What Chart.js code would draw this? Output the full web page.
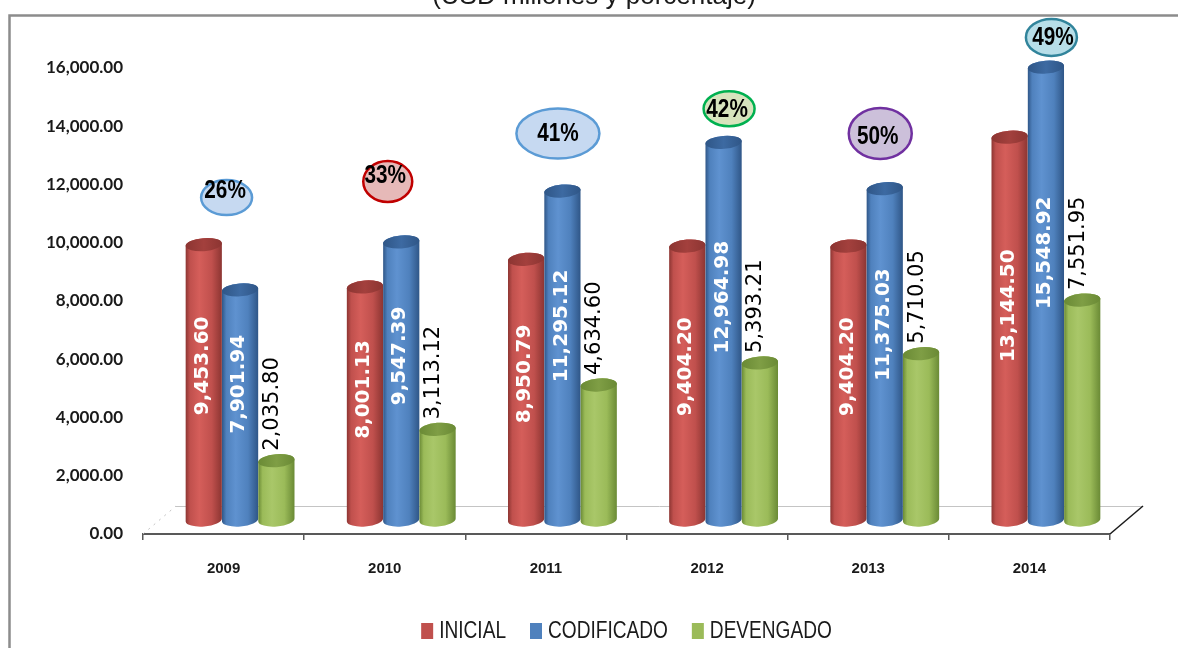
<!DOCTYPE html>
<html lang="es">
<head>
<meta charset="utf-8">
<title>Presupuesto 2009-2014</title>
<script src="https://cdn.jsdelivr.net/npm/chart.js@4.4.1/dist/chart.umd.min.js"></script>
<style>
  html, body { margin: 0; padding: 0; background: #fff; overflow: hidden; }
  canvas { display: block; }
</style>
</head>
<body>
<canvas id="grafico" width="1178" height="648"></canvas>
<script>
const anios = ['2009', '2010', '2011', '2012', '2013', '2014'];
const inicial = [9453.60, 8001.13, 8950.79, 9404.20, 9404.20, 13144.50];
const codificado = [7901.94, 9547.39, 11295.12, 12964.98, 11375.03, 15548.92];
const devengado = [2035.80, 3113.12, 4634.60, 5393.21, 5710.05, 7551.95];
// ejecución: devengado / codificado
const porcentajes = ['26%', '33%', '41%', '42%', '50%', '49%'];

const SANS = '"Liberation Sans", Arial, sans-serif';
const ANGOSTO = 0.83; // factor horizontal para imitar una fuente estrecha

// globos de porcentaje: desplazamiento desde el centro del año y altura en valor del eje
const globos = [
  { dx: 3,  valor: 11550, rx: 25.5, ry: 17.5, tx: -1.5, ty: -7,   fondo: '#c6d9f1', borde: '#5b9bd5' },
  { dx: 3,  valor: 12100, rx: 24.5, ry: 20.5, tx: -2.5, ty: -6.5, fondo: '#e6b9b8', borde: '#c00000' },
  { dx: 12, valor: 13750, rx: 41.5, ry: 25,   tx: 0,    ty: 0,    fondo: '#c6d9f1', borde: '#5b9bd5' },
  { dx: 22, valor: 14600, rx: 25.5, ry: 17.5, tx: -2,   ty: 0.5,  fondo: '#d7e4bd', borde: '#00b050' },
  { dx: 12, valor: 13750, rx: 31.5, ry: 25.5, tx: -2.5, ty: 2.5,  fondo: '#ccc0da', borde: '#7030a0' },
  { dx: 22, valor: 17050, rx: 25.5, ry: 18.5, tx: 1.5,  ty: -0.5, fondo: '#b7dee8', borde: '#31849b' }
];

const tonos = {
  rojo:  { base: '#c0504d', claro: '#d55e5a', oscuro: '#8c3532', tapa: '#a3403d' },
  azul:  { base: '#4f81bd', claro: '#5f92d0', oscuro: '#2f5687', tapa: '#3d6aa2' },
  verde: { base: '#9bbb59', claro: '#a9c769', oscuro: '#6a8a35', tapa: '#7f9e45' }
};

const profundidad = { dx: 33, dy: -28 };

const fmt = v => v.toLocaleString('en-US', { minimumFractionDigits: 2, maximumFractionDigits: 2 });

function textoAngosto(ctx, texto, x, y, align) {
  ctx.save();
  ctx.translate(x, y);
  ctx.scale(ANGOSTO, 1);
  ctx.textAlign = align;
  ctx.fillText(texto, 0, 0);
  ctx.restore();
}

function cilindro(ctx, cx, top, base, w, t) {
  const rx = w / 2, ry = 6.5, giro = -0.08;
  const g = ctx.createLinearGradient(cx - rx, 0, cx + rx, 0);
  g.addColorStop(0, t.oscuro);
  g.addColorStop(0.12, t.base);
  g.addColorStop(0.38, t.claro);
  g.addColorStop(0.72, t.base);
  g.addColorStop(1, t.oscuro);
  ctx.beginPath();
  ctx.ellipse(cx, base, rx, ry, giro, Math.PI, 0, true);
  ctx.ellipse(cx, top, rx, ry, giro, 0, Math.PI, true);
  ctx.closePath();
  ctx.fillStyle = g;
  ctx.fill();
  const gt = ctx.createLinearGradient(cx - rx, 0, cx + rx, 0);
  gt.addColorStop(0, t.oscuro);
  gt.addColorStop(0.5, t.tapa);
  gt.addColorStop(1, t.oscuro);
  ctx.beginPath();
  ctx.ellipse(cx, top, rx, ry, giro, 0, Math.PI * 2);
  ctx.fillStyle = gt;
  ctx.fill();
}

const marco = {
  id: 'marco',
  beforeDraw(chart) {
    const { ctx, width, height } = chart;
    ctx.save();
    ctx.fillStyle = '#fff';
    ctx.fillRect(0, 0, width, height);
    ctx.strokeStyle = '#8c8c8c';
    ctx.lineWidth = 2.5;
    ctx.strokeRect(9.5, 15.5, width + 40, height + 40);
    ctx.fillStyle = '#1a1a1a';
    ctx.font = '26px ' + SANS;
    ctx.textAlign = 'center';
    ctx.textBaseline = 'alphabetic';
    ctx.fillText('(USD millones y porcentaje)', 594, 4);
    ctx.restore();
  }
};

const cilindros = {
  id: 'cilindros',
  beforeDatasetsDraw(chart) {
    const { ctx, chartArea: a } = chart;
    const { dx, dy } = profundidad;
    ctx.save();
    // piso
    ctx.strokeStyle = '#c4c4c4';
    ctx.lineWidth = 1;
    ctx.beginPath();
    ctx.moveTo(a.left + dx, a.bottom + dy + 0.5);
    ctx.lineTo(a.right + dx, a.bottom + dy + 0.5);
    ctx.stroke();
    ctx.setLineDash([2, 5]);
    ctx.beginPath();
    ctx.moveTo(a.left, a.bottom);
    ctx.lineTo(a.left + dx, a.bottom + dy);
    ctx.stroke();
    ctx.setLineDash([]);
    ctx.strokeStyle = '#1a1a1a';
    ctx.lineWidth = 1.5;
    ctx.beginPath();
    ctx.moveTo(a.right, a.bottom);
    ctx.lineTo(a.right + dx, a.bottom + dy);
    ctx.stroke();

    chart.data.datasets.forEach((ds, i) => {
      chart.getDatasetMeta(i).data.forEach(bar => {
        cilindro(ctx, bar.x + dx / 2, bar.y + dy / 2, bar.base + dy / 2, bar.width, ds.tono);
      });
    });

    // etiquetas verticales
    chart.data.datasets.forEach((ds, i) => {
      chart.getDatasetMeta(i).data.forEach((bar, j) => {
        const cx = bar.x + dx / 2, top = bar.y + dy / 2, base = bar.base + dy / 2;
        ctx.save();
        if (ds.etiqueta === 'dentro') {
          ctx.translate(cx - 1, top + ds.fraccion * (base - top));
          ctx.rotate(-Math.PI / 2);
          ctx.textAlign = 'center';
          ctx.font = 'bold 20px "DejaVu Sans", sans-serif';
          ctx.fillStyle = '#fff';
        } else {
          ctx.translate(cx - 4, top - 10);
          ctx.rotate(-Math.PI / 2);
          ctx.textAlign = 'left';
          ctx.font = '21px "DejaVu Sans", sans-serif';
          ctx.fillStyle = '#000';
        }
        ctx.textBaseline = 'middle';
        ctx.fillText(fmt(ds.data[j]), 0, 0);
        ctx.restore();
      });
    });
    ctx.restore();
    return false;
  }
};

const extras = {
  id: 'extras',
  afterDraw(chart) {
    const { ctx, chartArea: a } = chart;
    const xs = chart.scales.x, ys = chart.scales.y;
    ctx.save();
    // globos de ejecución
    globos.forEach((b, i) => {
      const x = xs.getPixelForValue(i) + b.dx;
      const y = ys.getPixelForValue(b.valor);
      ctx.beginPath();
      ctx.ellipse(x, y, b.rx, b.ry, 0, 0, Math.PI * 2);
      ctx.fillStyle = b.fondo;
      ctx.fill();
      ctx.lineWidth = 2.5;
      ctx.strokeStyle = b.borde;
      ctx.stroke();
      ctx.fillStyle = '#000';
      ctx.font = 'bold 25px ' + SANS;
      ctx.textBaseline = 'middle';
      textoAngosto(ctx, porcentajes[i], x + b.tx, y + b.ty + 1, 'center');
    });
    // leyenda
    ctx.font = '23px ' + SANS;
    ctx.textBaseline = 'middle';
    const items = chart.data.datasets.map(ds => ({ texto: ds.label, color: ds.tono.base, w: ctx.measureText(ds.label).width * ANGOSTO }));
    const caja = 12, hueco = 6, sep = 24;
    const total = items.reduce((s, it) => s + caja + hueco + it.w, 0) + sep * (items.length - 1);
    let x = (a.left + a.right) / 2 - total / 2;
    const y = 631;
    items.forEach(it => {
      ctx.fillStyle = it.color;
      ctx.fillRect(x, y - 8, caja, 16);
      ctx.fillStyle = '#1a1a1a';
      textoAngosto(ctx, it.texto, x + caja + hueco, y + 1, 'left');
      x += caja + hueco + it.w + sep;
    });
    ctx.restore();
  }
};

new Chart(document.getElementById('grafico'), {
  type: 'bar',
  data: {
    labels: anios,
    datasets: [
      { label: 'INICIAL', data: inicial, backgroundColor: tonos.rojo.base, tono: tonos.rojo, etiqueta: 'dentro', fraccion: 0.44 },
      { label: 'CODIFICADO', data: codificado, backgroundColor: tonos.azul.base, tono: tonos.azul, etiqueta: 'dentro', fraccion: 0.41 },
      { label: 'DEVENGADO', data: devengado, backgroundColor: tonos.verde.base, tono: tonos.verde, etiqueta: 'encima' }
    ]
  },
  options: {
    responsive: false,
    animation: false,
    categoryPercentage: 0.676,
    barPercentage: 1,
    layout: { padding: { left: 20, right: 68, top: 68, bottom: 0 } },
    plugins: {
      legend: { display: false },
      tooltip: { enabled: false }
    },
    scales: {
      x: {
        grid: { display: true, drawOnChartArea: false, tickLength: 6, color: '#595959', lineWidth: 1.5 },
        border: { display: true, color: '#595959', width: 2 },
        ticks: { color: '#1a1a1a', padding: 20, font: { family: SANS, size: 15, weight: 'bold' } },
        afterFit: s => { s.height = 648 - 534; }
      },
      y: {
        min: 0,
        max: 16000,
        grid: { display: false, drawTicks: false },
        border: { display: false },
        ticks: {
          stepSize: 2000,
          padding: 20,
          color: '#1a1a1a',
          font: { family: 'Lato, sans-serif', size: 17, weight: 'bold' },
          callback: v => fmt(v)
        },
        afterFit: s => { s.width = 123; }
      }
    }
  },
  plugins: [marco, cilindros, extras]
});
</script>
</body>
</html>
